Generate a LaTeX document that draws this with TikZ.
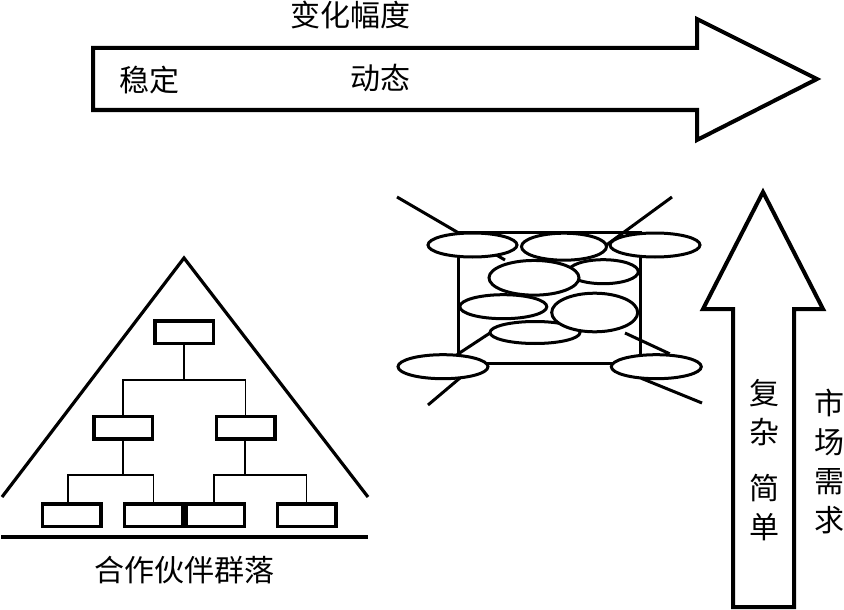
\documentclass[tikz,border=0pt]{standalone}
\usepackage{fontspec}
\newfontfamily\cjk{Noto Sans CJK SC}
\usetikzlibrary{shapes.geometric}
\begin{document}
\begin{tikzpicture}[x=1pt,y=-1pt,
  heavy/.style={line width=4pt,line join=miter},
  boxnode/.style={draw,line width=3.5pt,fill=white,minimum width=58.5pt,minimum height=22.5pt,inner sep=0pt},
  conn/.style={line width=1.5pt},
  ell/.style={draw,ellipse,line width=3pt,fill=white,inner sep=0pt},
  netline/.style={line width=3pt},
  lbl/.style={font=\cjk\fontsize{30}{39}\selectfont,inner sep=0pt,align=center}]
\useasboundingbox (0,0) rectangle (844,610);

% horizontal arrow
\draw[heavy] (93,48) -- (697,48) -- (697,19) -- (817,79) -- (697,140) -- (697,110) -- (93,110) -- cycle;
\node[lbl] (bianhua) at (350,15) {变化幅度};
\node[lbl] (wending) at (149,80) {稳定};
\node[lbl] (dongtai) at (380,78) {动态};

% vertical arrow
\draw[heavy] (733,607) -- (733,309) -- (703,309) -- (763,192) -- (823,309) -- (794,309) -- (794,607) -- cycle;
\node[lbl] (fuza) at (764,412.5) {复\\杂};
\node[lbl] (jiandan) at (764,508) {简\\单};
\node[lbl] (shichang) at (829,461.5) {市\\场\\需\\求};

% pyramid
\draw[line width=3.2pt] (2,497) -- (184,258) -- (368,497);
\draw[heavy] (1,537) -- (368,537);
\node[boxnode] (top) at (184,332) {};
\node[boxnode] (ml) at (123,427.5) {};
\node[boxnode] (mr) at (245.5,427.5) {};
\node[boxnode] (b1) at (71.5,515) {};
\node[boxnode] (b2) at (153.5,515) {};
\node[boxnode] (b3) at (215,515) {};
\node[boxnode] (b4) at (306.5,515) {};
\coordinate (j1) at (184,380);
\draw[conn] (top.south) -- (j1);
\draw[conn] (ml.north) |- (j1) -| (mr.north);
\coordinate (j2) at (123,475);
\coordinate (j3) at (245,475);
\draw[conn] (ml.south) -- (j2);
\draw[conn] (b1.north -| 68,0) |- (j2) -| (b2.north);
\draw[conn] (mr.south -| j3) -- (j3);
\draw[conn] (b3.north -| 214,0) |- (j3) -| (b4.north);
\node[lbl] (hezuo) at (184.5,570) {合作伙伴群落};

% network
\coordinate (tl1) at (397,197); \coordinate (tl2) at (505,260);
\coordinate (tr1) at (672,197); \coordinate (tr2) at (590,257);
\draw[netline] (tl1) -- (tl2);
\draw[netline] (tr1) -- (tr2);
\coordinate (bl1) at (490,333); \coordinate (bl4) at (428,405);
\draw[netline] (bl1) -- (458,354) -- (460,378) -- (bl4);
\coordinate (br1) at (625,333); \coordinate (br4) at (702,403);
\draw[netline] (br1) -- (668,353) -- (643,379) -- (br4);
\draw[netline] (458,232) rectangle (640,363);

\node[ell,minimum width=90pt,minimum height=22pt] (e8) at (535,332.5) {};
\node[ell,minimum width=87pt,minimum height=24pt] (e6) at (503.3,306.7) {};
\node[ell,minimum width=70pt,minimum height=24pt] (e5) at (603.3,271.7) {};
\node[ell,minimum width=85pt,minimum height=27pt] (e2) at (564,246.7) {};
\node[ell,minimum width=90pt,minimum height=34.7pt] (e4) at (534,277.8) {};
\node[ell,minimum width=86pt,minimum height=38.6pt] (e7) at (594.7,312.5) {};
\node[ell,minimum width=89pt,minimum height=24pt] (e1) at (472.5,245) {};
\node[ell,minimum width=90pt,minimum height=24pt] (e3) at (655,245) {};
\node[ell,minimum width=90pt,minimum height=24pt] (e9) at (443,366.7) {};
\node[ell,minimum width=90pt,minimum height=24pt] (e10) at (656.3,366.7) {};
\end{tikzpicture}
\end{document}
